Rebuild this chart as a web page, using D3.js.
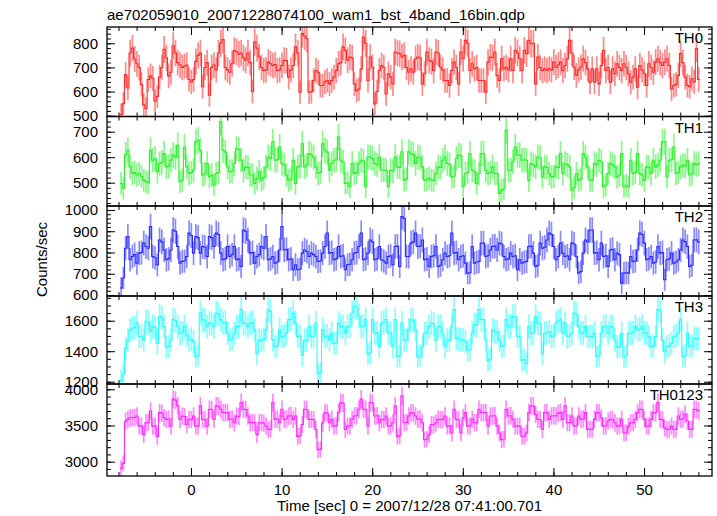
<!DOCTYPE html>
<html><head><meta charset="utf-8">
<script src="https://cdn.jsdelivr.net/npm/d3@7"></script>
<style>
body{margin:0;background:#fff;}
text{font-family:"Liberation Sans",Arial,Helvetica,sans-serif;}
</style></head><body>
<svg id="c" width="717" height="516"></svg>
<script>
const title = "ae702059010_20071228074100_wam1_bst_4band_16bin.qdp";
const xLabel = "Time [sec] 0 = 2007/12/28 07:41:00.701";
const yLabel = "Counts/sec";
const binWidth = 0.25;
const startTime = -7.84;
const seriesNames = ["TH0", "TH1", "TH2", "TH3", "TH0123"];

const th0 = [
505,550,670,615,760,780,735,715,700,630,545,530,650,665,655,560,
580,660,700,775,740,665,680,790,760,720,710,700,705,710,650,640,
650,725,750,760,620,700,720,585,700,710,690,760,800,815,700,690,
680,715,770,765,755,760,740,730,760,720,600,805,780,743,700,687,
690,722,715,708,712,687,690,708,730,728,660,690,708,785,760,597,
840,830,820,597,600,646,687,680,625,625,640,646,632,646,660,687,
715,720,785,770,730,743,740,632,604,610,694,826,800,646,743,701,
549,600,687,708,700,590,674,660,632,764,760,757,743,750,700,680,
694,680,736,743,740,632,674,764,730,725,687,764,760,701,690,646,
646,625,687,722,700,632,764,736,812,800,687,715,694,700,646,646,
646,597,722,743,740,764,667,646,736,694,701,690,736,687,771,760,
736,687,771,757,812,798,800,632,743,700,687,694,687,694,690,722,
700,710,722,687,708,736,812,760,701,667,690,701,736,720,694,639,
694,639,694,632,708,771,687,700,639,694,674,715,700,687,715,700,
674,639,660,694,618,708,690,674,625,715,700,680,722,736,720,708,
722,736,708,611,625,630,667,757,720,660,625,620,653,640,778,650];

const th1 = [
497,478,610,627,562,536,540,530,536,525,510,504,500,627,588,595,
543,575,580,614,562,565,588,608,600,647,504,510,640,562,536,540,
549,660,666,627,530,535,575,523,530,491,536,540,740,627,620,562,
543,545,575,634,630,588,549,562,560,530,530,497,517,543,510,520,
562,601,595,660,588,590,640,575,570,530,510,515,588,497,562,565,
653,562,570,614,608,600,562,536,540,653,627,620,549,575,588,590,
679,588,580,497,500,484,575,536,540,575,588,585,484,601,600,595,
575,570,601,549,550,549,484,549,545,601,562,560,621,510,515,621,
614,610,575,601,598,562,510,512,517,510,508,536,562,560,588,601,
575,572,523,525,595,608,605,484,536,540,614,549,545,497,536,614,
614,549,536,540,562,536,535,458,471,475,705,549,550,582,640,608,
608,588,590,588,510,575,570,562,601,598,523,562,560,536,523,525,
562,560,614,536,575,570,562,471,480,536,510,515,614,600,562,510,
510,575,570,588,582,484,490,536,575,570,562,523,530,614,484,490,
484,588,536,540,614,536,530,510,562,560,536,588,562,570,588,660,
660,523,588,590,640,536,540,562,569,565,588,530,535,575,570,575];

const th2 = [
633,680,820,875,766,781,790,750,797,800,844,828,820,922,781,775,
742,859,850,812,766,770,812,906,900,828,750,758,760,781,891,880,
797,875,870,797,828,825,781,875,870,828,891,885,797,766,770,828,
781,790,828,766,770,734,906,900,859,797,800,750,781,790,828,820,
875,766,770,781,750,755,812,922,812,815,766,770,719,742,719,722,
797,812,805,781,797,790,781,758,760,797,828,891,797,800,766,770,
828,781,785,719,742,745,766,797,800,828,891,766,770,797,859,850,
766,770,828,766,760,750,781,785,742,828,830,734,969,960,781,781,
844,850,891,828,830,859,766,770,734,781,785,828,734,740,766,797,
781,785,891,797,800,766,781,785,750,703,705,828,750,755,758,844,
844,781,785,812,828,830,812,844,840,781,766,770,797,781,785,719,
766,750,755,758,828,830,797,734,740,844,820,825,859,891,885,828,
766,781,844,797,781,785,766,844,840,781,703,710,797,859,850,906,
906,797,800,766,844,781,785,734,812,815,766,797,790,656,703,705,
703,781,758,760,812,891,885,844,766,770,781,750,755,828,797,800,
672,766,770,797,750,755,766,812,859,850,828,734,740,859,860,850];

const th3 = [
1207,1251,1420,1473,1540,1551,1555,1584,1496,1500,1473,1596,1590,1529,1562,1555,
1451,1629,1620,1562,1429,1430,1473,1607,1600,1562,1518,1520,1562,1507,1473,1480,
1462,1362,1370,1651,1607,1600,1562,1584,1580,1562,1651,1645,1607,1584,1590,1518,
1473,1480,1518,1562,1560,1673,1584,1580,1562,1584,1590,1540,1384,1473,1470,1480,
1540,1673,1660,1473,1429,1435,1540,1496,1500,1518,1607,1610,1651,1584,1496,1500,
1373,1473,1470,1562,1496,1500,1584,1251,1260,1540,1496,1500,1473,1518,1451,1455,
1584,1562,1560,1518,1562,1565,1651,1696,1690,1629,1562,1565,1607,1384,1390,1607,
1518,1520,1429,1584,1590,1607,1518,1520,1429,1607,1362,1370,1584,1473,1475,1540,
1607,1600,1540,1362,1370,1429,1518,1520,1562,1584,1580,1473,1562,1565,1518,1429,
1473,1470,1562,1673,1484,1480,1473,1473,1462,1407,1410,1518,1573,1570,1673,1607,
1607,1473,1340,1350,1540,1529,1525,1473,1429,1435,1607,1562,1565,1629,1629,1496,
1496,1340,1345,1318,1562,1518,1520,1629,1584,1580,1384,1518,1520,1529,1496,1500,
1584,1600,1607,1518,1584,1496,1500,1518,1651,1645,1562,1518,1520,1562,1496,1500,
1496,1518,1362,1370,1518,1562,1565,1518,1562,1560,1473,1429,1430,1518,1362,1370,
1518,1518,1520,1562,1540,1545,1562,1518,1520,1496,1429,1435,1496,1673,1665,1473,
1396,1429,1435,1451,1496,1500,1518,1607,1362,1370,1518,1429,1435,1484,1480,1484];

const th0123 = [
2907,2977,3560,3584,3607,3607,3610,3631,3491,3495,3374,3537,3540,3701,3491,3495,
3350,3678,3670,3607,3584,3590,3491,3864,3850,3771,3584,3631,3625,3514,3584,3580,
3631,3491,3495,3771,3584,3580,3491,3724,3720,3584,3771,3765,3724,3678,3680,3678,
3584,3590,3537,3631,3625,3818,3724,3720,3631,3537,3540,3537,3374,3537,3540,3530,
3491,3444,3450,3818,3584,3590,3537,3724,3584,3590,3631,3635,3584,3631,3350,3360,
3514,3724,3720,3584,3584,3580,3444,3164,3170,3537,3678,3670,3537,3584,3491,3495,
3678,3818,3810,3444,3491,3495,3584,3631,3635,3724,3864,3724,3720,3491,3818,3810,
3631,3635,3537,3584,3580,3631,3491,3495,3537,3771,3350,3360,3911,3537,3540,3631,
3678,3670,3631,3584,3590,3537,3304,3310,3374,3514,3510,3537,3584,3580,3584,3631,
3491,3495,3397,3724,3584,3580,3397,3607,3678,3491,3495,3584,3537,3540,3724,3678,
3678,3678,3491,3631,3631,3635,3491,3397,3304,3310,3724,3631,3635,3584,3491,3491,
3491,3350,3355,3397,3678,3771,3770,3654,3584,3580,3444,3678,3675,3584,3631,3635,
3631,3670,3678,3584,3771,3537,3540,3631,3491,3495,3631,3584,3590,3678,3444,3450,
3444,3584,3678,3675,3607,3491,3495,3561,3584,3580,3537,3491,3495,3584,3397,3400,
3491,3537,3540,3584,3678,3724,3720,3584,3491,3495,3584,3678,3675,3818,3584,3580,
3467,3444,3450,3491,3444,3450,3631,3584,3590,3654,3561,3444,3450,3724,3720,3700];

const seriesValues = [th0, th1, th2, th3, th0123];
const xDomain = [-9.27, 57.5];
const xMajorTicks = [0, 10, 20, 30, 40, 50];
const xMinorStep = 2;
const yDomains = [[496.7, 867.5], [408.6, 759.6], [595.3, 1018.8], [1185, 1762], [2802, 4073]];
const yMajorTicks = [[500, 600, 700, 800], [500, 600, 700], [600, 700, 800, 900, 1000], [1200, 1400, 1600], [3000, 3500, 4000]];
const yMinorStep = [20, 20, 20, 50, 100];
const colors = ["#ff2a2a", "#2af02a", "#2a2aff", "#2affff", "#ff2aff"];

// layout
const left = 107, right = 712;
const bounds = [27, 116.5, 206, 296, 384, 476];

const svg = d3.select("#c");
const x = d3.scaleLinear().domain(xDomain).range([left, right]);
const xMinor = d3.range(Math.ceil(xDomain[0] / xMinorStep) * xMinorStep, xDomain[1], xMinorStep);

svg.append("text").attr("x", left).attr("y", 20).attr("font-size", 15).text(title);

seriesValues.forEach((vals, p) => {
  const top = bounds[p], bot = bounds[p + 1];
  const y = d3.scaleLinear().domain(yDomains[p]).range([bot, top]);
  const g = svg.append("g");
  const clipId = "clip" + p;
  svg.append("clipPath").attr("id", clipId).append("rect")
    .attr("x", left).attr("y", top).attr("width", right - left).attr("height", bot - top);
  const plot = g.append("g").attr("clip-path", `url(#${clipId})`);

  // error bars
  plot.append("g").selectAll("line").data(vals).join("line")
    .attr("x1", (d, i) => x(startTime + (i + 0.5) * binWidth))
    .attr("x2", (d, i) => x(startTime + (i + 0.5) * binWidth))
    .attr("y1", d => y(d - Math.sqrt(d / binWidth)))
    .attr("y2", d => y(d + Math.sqrt(d / binWidth)))
    .attr("stroke", colors[p]).attr("stroke-width", 1.7).attr("stroke-opacity", 0.55);

  // step line
  const pts = vals.map((v, i) => [startTime + i * binWidth, v]);
  pts.push([startTime + vals.length * binWidth, vals[vals.length - 1]]);
  const line = d3.line().x(d => x(d[0])).y(d => y(d[1])).curve(d3.curveStepAfter);
  plot.append("path").datum(pts).attr("d", line)
    .attr("fill", "none").attr("stroke", colors[p]).attr("stroke-width", 1.1);

  // y axes
  const yMin = d3.range(Math.ceil(yDomains[p][0] / yMinorStep[p]) * yMinorStep[p], yDomains[p][1], yMinorStep[p]);
  const axL = g.append("g").attr("transform", `translate(${left},0)`)
    .call(d3.axisLeft(y).tickValues(yMin).tickSize(-4).tickFormat(""));
  const axLM = g.append("g").attr("transform", `translate(${left},0)`)
    .call(d3.axisLeft(y).tickValues(yMajorTicks[p]).tickSize(-8).tickPadding(9).tickFormat(d3.format("d")));
  const axR = g.append("g").attr("transform", `translate(${right},0)`)
    .call(d3.axisRight(y).tickValues(yMin).tickSize(-4).tickFormat(""));
  const axRM = g.append("g").attr("transform", `translate(${right},0)`)
    .call(d3.axisRight(y).tickValues(yMajorTicks[p]).tickSize(-8).tickFormat(""));
  // x axes (top and bottom of each panel)
  const axT = g.append("g").attr("transform", `translate(0,${top})`)
    .call(d3.axisTop(x).tickValues(xMinor).tickSize(-4).tickFormat(""));
  const axTM = g.append("g").attr("transform", `translate(0,${top})`)
    .call(d3.axisTop(x).tickValues(xMajorTicks).tickSize(-8).tickFormat(""));
  const axB = g.append("g").attr("transform", `translate(0,${bot})`)
    .call(d3.axisBottom(x).tickValues(xMinor).tickSize(-4).tickFormat(""));
  const axBM = g.append("g").attr("transform", `translate(0,${bot})`)
    .call(d3.axisBottom(x).tickValues(xMajorTicks).tickSize(-8).tickPadding(8)
      .tickFormat(p === seriesValues.length - 1 ? d3.format("d") : ""));
  [axL, axLM, axR, axRM, axT, axTM, axB, axBM].forEach(a => {
    a.select(".domain").remove();
    a.selectAll("line").attr("stroke", "#000").attr("stroke-width", 1);
    a.selectAll("text").attr("font-size", 15).attr("fill", "#000")
      .attr("font-family", "'Liberation Sans',Arial,sans-serif");
  });

  // frame
  g.append("rect").attr("x", left).attr("y", top).attr("width", right - left).attr("height", bot - top)
    .attr("fill", "none").attr("stroke", "#000").attr("stroke-width", 1.3);

  // label
  g.append("text").attr("x", right - 9).attr("y", top + 16).attr("text-anchor", "end")
    .attr("font-size", 15).text(seriesNames[p]);
});

svg.append("text").attr("x", (left + right) / 2).attr("y", 511).attr("text-anchor", "middle")
  .attr("font-size", 15).text(xLabel);
svg.append("text").attr("transform", `translate(47,${(bounds[0] + bounds[5]) / 2 + 8}) rotate(-90)`)
  .attr("text-anchor", "middle").attr("font-size", 15).text(yLabel);
</script>
</body></html>
